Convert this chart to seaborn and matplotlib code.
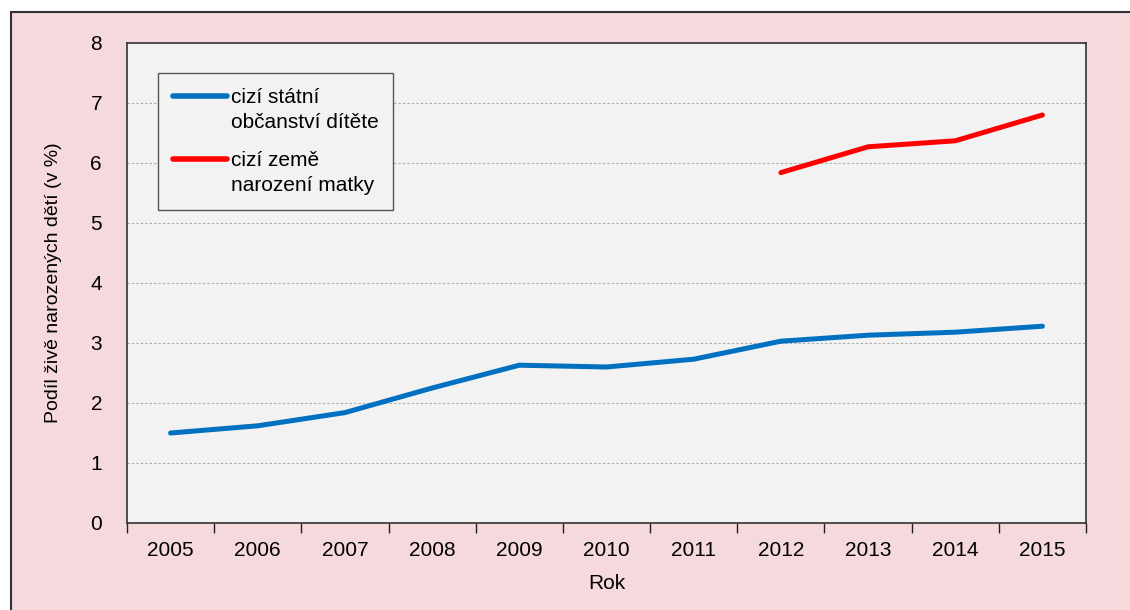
import seaborn as sns
import matplotlib.pyplot as plt
import pandas as pd
from matplotlib.patches import Rectangle

years = [2005, 2006, 2007, 2008, 2009, 2010, 2011, 2012, 2013, 2014, 2015]
obcanstvi = [1.50, 1.62, 1.84, 2.25, 2.63, 2.60, 2.73, 3.03, 3.13, 3.18, 3.28]
red_years = [2012, 2013, 2014, 2015]
zeme_matky = [5.84, 6.27, 6.37, 6.80]

lab_blue = "cizí státní\nobčanství dítěte"
lab_red = "cizí země\nnarození matky"

df = pd.concat([
    pd.DataFrame({"rok": years, "podil": obcanstvi, "serie": lab_blue}),
    pd.DataFrame({"rok": red_years, "podil": zeme_matky, "serie": lab_red}),
])

sns.set_style("white")
plt.rcParams["font.family"] = ["Liberation Sans", "DejaVu Sans"]

fig = plt.figure(figsize=(11.3, 6.1), dpi=100, facecolor="white")

# pink panel with frame (left/top edges visible, rest runs off the image)
fig.add_artist(Rectangle((10.5/1130, -0.05), 1.2, 1-11.5/610+0.05,
                         transform=fig.transFigure, facecolor="#F5D9DC",
                         edgecolor="#333333", lw=1.5, zorder=-10))

ax = fig.add_axes([127/1130, 1-523/610, (1086-127)/1130, (523-43)/610])
ax.set_facecolor("#F2F2F2")

sns.lineplot(data=df, x="rok", y="podil", hue="serie",
             palette={lab_blue: "#0070C0", lab_red: "#FF0000"},
             linewidth=3.6, ax=ax, legend=True, solid_capstyle="round")

ax.set_xlim(2004.5, 2015.5)
ax.set_ylim(0, 8)
ax.set_xticks(years)
ax.set_xticks([y - 0.5 for y in years] + [2015.5], minor=True)
ax.tick_params(axis="x", which="major", length=0, labelsize=15, pad=13, labelcolor="black")
ax.tick_params(axis="x", which="minor", length=7, width=1, direction="out", bottom=True, color="#222222")
ax.set_yticks(range(0, 9))
ax.tick_params(axis="y", length=0, labelsize=15, pad=18, labelcolor="black")
ax.yaxis.grid(True, linestyle=(0, (2, 2)), color="#AAAAAA", linewidth=0.8)
ax.set_axisbelow(True)
for s in ax.spines.values():
    s.set_visible(True)
    s.set_color("#333333")
    s.set_linewidth(1.2)

ax.set_xlabel("Rok", fontsize=15, labelpad=10, color="black")
ax.set_ylabel("Podíl živě narozených dětí (v %)", fontsize=14, labelpad=20, color="black")

leg = ax.legend(loc="upper left", bbox_to_anchor=(31/959, 1-30/480),
                borderaxespad=0, fontsize=15, frameon=True, fancybox=False,
                facecolor="#F2F2F2", edgecolor="#555555", framealpha=1,
                handlelength=2.6, handletextpad=0.2, labelspacing=0.95,
                borderpad=0.7)
leg.get_frame().set_linewidth(1)
for t in leg.get_texts():
    t.set_linespacing(1.4)
    t.set_color("black")
# handle sits next to the first text line, as in the original
for h in leg.get_lines():
    h.set_linewidth(4.0)
    h.set_solid_capstyle("round")
    h.set_ydata([y + 10.2 for y in h.get_ydata()])

fig.savefig("out.png", dpi=100, facecolor=fig.get_facecolor())
